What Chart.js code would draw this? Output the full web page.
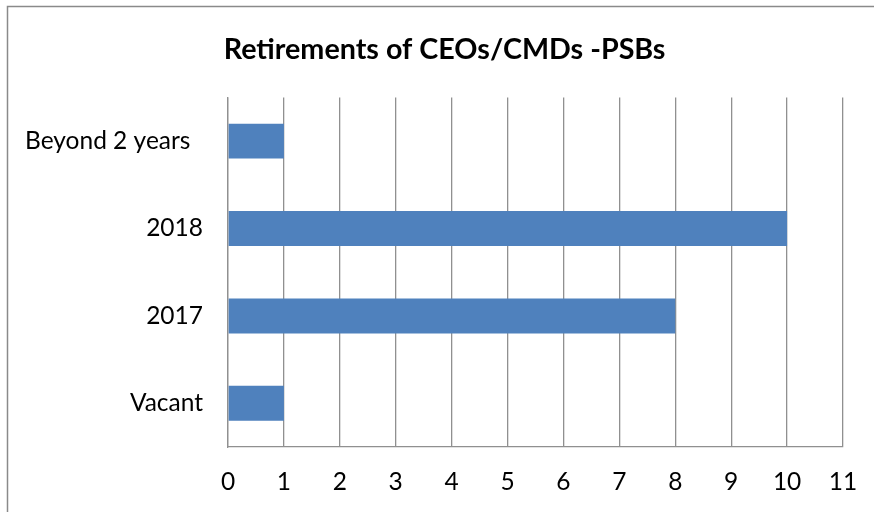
<!DOCTYPE html>
<html>
<head>
<meta charset="utf-8">
<script src="https://cdn.jsdelivr.net/npm/chart.js@4.4.0/dist/chart.umd.min.js"></script>
<style>
  html, body { margin: 0; padding: 0; background: #fff; overflow: hidden; }
  #wrap { position: relative; width: 874px; height: 512px; }
</style>
</head>
<body>
<div id="wrap"><canvas id="chart" width="874" height="512"></canvas></div>
<script>
// chart data
const categories = ['Beyond 2 years  ', '2018', '2017', 'Vacant'];
const retirements = [1, 10, 8, 1];
const xTicks = [0, 1, 2, 3, 4, 5, 6, 7, 8, 9, 10, 11];

const FONT = 'Lato, "Open Sans", sans-serif';

// outer frame of the chart object (runs off the right and bottom of the picture)
const framePlugin = {
  id: 'frame',
  afterLayout(chart) {
    // the title sits a little right of the canvas centre
    if (chart.titleBlock) chart.titleBlock.left += 46;
  },
  beforeDraw(chart) {
    const ctx = chart.ctx;
    ctx.save();
    ctx.fillStyle = '#ffffff';
    ctx.fillRect(0, 0, chart.width, chart.height);
    ctx.strokeStyle = '#8a8a8a';
    ctx.lineWidth = 1.5;
    ctx.strokeRect(7.5, 6.5, 1000, 1000);
    ctx.restore();
  }
};

const ctx = document.getElementById('chart').getContext('2d');
const chart = new Chart(ctx, {
  type: 'bar',
  data: {
    labels: categories,
    datasets: [{
      data: retirements,
      backgroundColor: '#4f81bd',
      borderWidth: 0,
      barPercentage: 0.8,
      categoryPercentage: 0.5
    }]
  },
  options: {
    indexAxis: 'y',
    responsive: false,
    animation: false,
    layout: { padding: { left: 0, right: 31, top: 0, bottom: 0 } },
    scales: {
      x: {
        min: 0,
        max: 11,
        afterBuildTicks(scale) {
          scale.ticks = xTicks.map(v => ({ value: v }));
        },
        afterFit(scale) {
          scale.height = 65;
          scale.paddingLeft = 0;
          scale.paddingRight = 0;
        },
        grid: { color: '#909090', lineWidth: 1.3, drawTicks: false },
        border: { display: true, color: '#909090', width: 1.3 },
        ticks: { color: '#000', padding: 20, font: { family: FONT, size: 24.5 } }
      },
      y: {
        afterFit(scale) { scale.width = 228; },
        grid: { display: false, drawTicks: false },
        border: { display: true, color: '#909090', width: 1.3 },
        ticks: { color: '#000', padding: 25, font: { family: FONT, size: 24.5 } }
      }
    },
    plugins: {
      legend: { display: false },
      tooltip: { enabled: false },
      title: {
        display: true,
        text: 'Retirements of CEOs/CMDs -PSBs',
        color: '#000',
        font: { family: FONT, size: 28.7, weight: 'bold', lineHeight: 1.2 },
        padding: { top: 33, bottom: 30 }
      }
    }
  },
  plugins: [framePlugin]
});
</script>
</body>
</html>
